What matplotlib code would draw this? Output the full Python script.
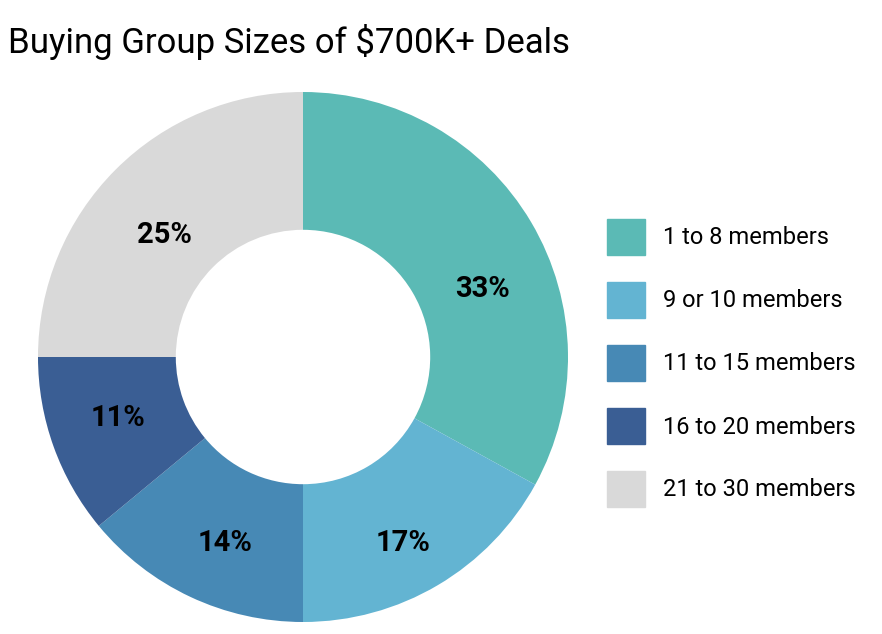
import matplotlib.pyplot as plt
from matplotlib.patches import Rectangle

plt.rcParams["font.family"] = "Roboto"

categories = ["1 to 8 members", "9 or 10 members", "11 to 15 members",
              "16 to 20 members", "21 to 30 members"]
shares = [33, 17, 14, 11, 25]
colors = ["#5BBAB5", "#63B4D2", "#4789B5", "#3A5E94", "#D9D9D9"]

W, H = 882, 634
fig = plt.figure(figsize=(W / 100, H / 100), dpi=100)

# pie axes: centre (303, 357) px, radius 265 px
cx, cy, r = 303, 357, 265
ax = fig.add_axes([(cx - r) / W, (H - cy - r) / H, 2 * r / W, 2 * r / H])
wedges, texts, autotexts = ax.pie(
    shares, colors=colors, startangle=90, counterclock=False,
    autopct="%d%%", pctdistance=0.74,
    wedgeprops=dict(width=0.52, edgecolor="none"),
    textprops=dict(fontsize=21, fontweight="bold", color="black"))
# nudge labels to where the reference puts them (px offsets)
nudges = [(11, 32), (0, 17), (6, 9), (0, -5), (0, 17)]
for t, (dx, dy) in zip(autotexts, nudges):
    x, y = t.get_position()
    t.set_position((x + dx / r, y - dy / r))
ax.set_xlim(-1, 1)
ax.set_ylim(-1, 1)
ax.set_aspect("equal")
ax.axis("off")

fig.text(8 / W, 1 - 42 / H, "Buying Group Sizes of $700K+ Deals",
         fontsize=25, va="center", ha="left")

# legend drawn by hand
for i, (lab, col) in enumerate(zip(categories, colors)):
    yc = 237 + i * 63
    fig.patches.append(Rectangle((607 / W, 1 - (yc + 18) / H), 38 / W, 36 / H,
                                 transform=fig.transFigure, color=col))
    fig.text(663 / W, 1 - (yc + 1) / H, lab, fontsize=17, va="center", ha="left")

fig.savefig("out.png", dpi=100)
